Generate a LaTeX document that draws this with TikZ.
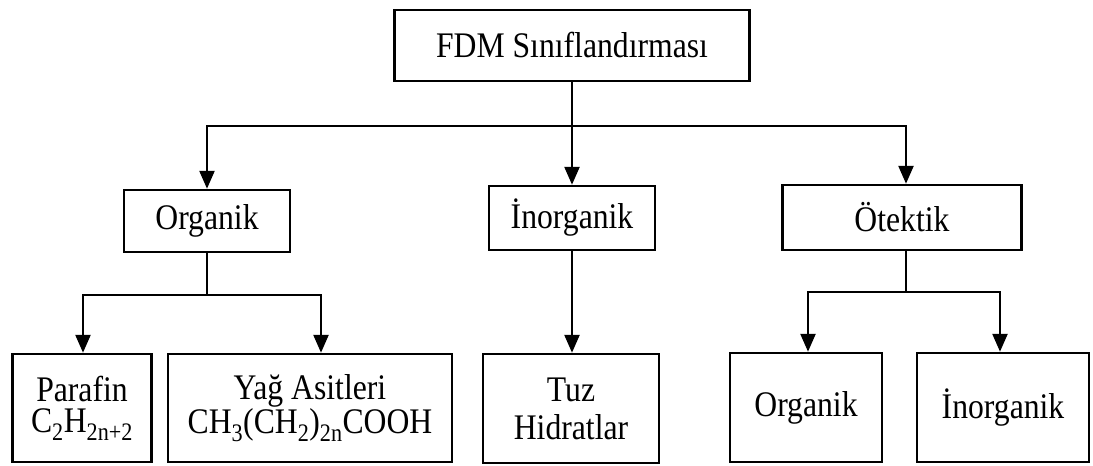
\documentclass[tikz,border=0pt]{standalone}
\usepackage{fontspec}
\setmainfont[FakeStretch=0.88]{Liberation Serif}
\usetikzlibrary{arrows.meta}

\begin{document}
\begin{tikzpicture}[x=1pt, y=-1pt,
    every node/.style={font=\fontsize{36}{31}\selectfont},
    caixa/.style={draw, line width=2.5pt, inner sep=0pt, align=center},
    seta/.style={-{Triangle[length=18pt, width=15pt]}, line width=2.5pt},
    haste/.style={line width=1.8pt}]
    \useasboundingbox (0,0) rectangle (1093,466);

    % Topo
    \node[caixa, minimum width=355pt, minimum height=71pt] (fdm) at (572,45.5) {FDM Sınıflandırması};

    % Grupos
    \node[caixa, minimum width=166pt, minimum height=62pt] (org) at (207,221) {Organik};
    \node[caixa, minimum width=166pt, minimum height=64pt] (inorg) at (572,218) {İnorganik};
    \node[caixa, minimum width=239pt, minimum height=65pt] (otek) at (902,217.5) {Ötektik};

    % Subgrupos
    \node[caixa, minimum width=139pt, minimum height=108pt] (paraf) at (82,408) {Parafin\\C\textsubscript{2}H\textsubscript{2n+2}};
    \node[caixa, minimum width=284pt, minimum height=108pt] (yag) at (310,408) {Yağ Asitleri\\CH\textsubscript{3}(CH\textsubscript{2})\textsubscript{2n}COOH};
    \node[caixa, minimum width=176pt, minimum height=109pt, font=\fontsize{36}{38}\selectfont] (tuz) at (571,408.5) {Tuz\\Hidratlar};
    \node[caixa, minimum width=152pt, minimum height=109pt] (org2) at (806,407.5) {Organik};
    \node[caixa, minimum width=172pt, minimum height=109pt] (inorg2) at (1003,407.5) {İnorganik};

    % Ligacoes
    \coordinate (barra) at (572,126);
    \coordinate (barraorg) at (207,295);
    \coordinate (barraote) at (906,292);
    \draw[haste] (fdm.south) -- (barra);
    \draw[seta] (barra) -| (org.north);
    \draw[seta] (barra) -- (inorg.north);
    \draw[seta] (barra) -| ([xshift=4pt]otek.north);

    \draw[haste] (org.south) -- (barraorg);
    \draw[seta] (barraorg) -| ([xshift=1pt]paraf.north);
    \draw[seta] (barraorg) -| ([xshift=11pt]yag.north);

    \draw[seta] (inorg.south) -- ([xshift=1pt]tuz.north);

    \draw[haste] ([xshift=4pt]otek.south) -- (barraote);
    \draw[seta] (barraote) -| ([xshift=2pt]org2.north);
    \draw[seta] (barraote) -| ([xshift=-3pt]inorg2.north);
\end{tikzpicture}
\end{document}
